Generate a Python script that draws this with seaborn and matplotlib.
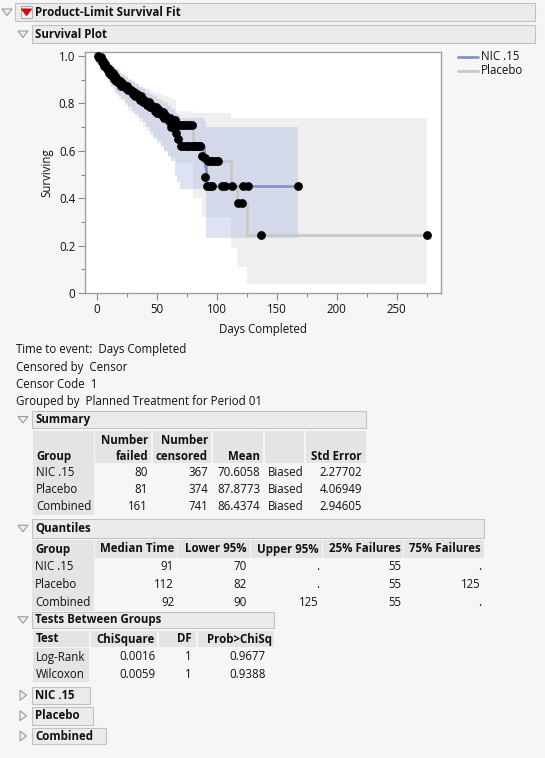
import numpy as np
import pandas as pd
import seaborn as sns
import matplotlib
matplotlib.use('Agg')
from matplotlib import pyplot as plt
from matplotlib.patches import Rectangle, Polygon

sns.set_style('white')
plt.rcParams['font.family'] = ['Open Sans', 'DejaVu Sans']

W, H = 545, 758
FS = 8.3
BG = '#f6f6f6'
INK = '#111111'

# ---- Kaplan-Meier curves ----
nic_t = [0, 2, 4, 6, 8, 10, 12, 14, 16, 18, 20, 23, 26, 29, 32, 35, 38, 41, 44, 47, 50, 53, 56, 59, 62, 65, 67, 69, 89, 90, 91, 168]
nic_s = [1.0, .99, .975, .96, .945, .93, .92, .905, .895, .885, .875, .865, .855, .84, .83, .815, .805, .795, .785, .77, .76, .75, .74, .725, .70, .675, .65, .62, .58, .53, .45, .45]
nic_lo = [1.0, .975, .96, .94, .91, .89, .875, .86, .845, .83, .82, .80, .785, .77, .755, .74, .72, .70, .68, .66, .64, .62, .60, .58, .555, .50, .47, .44, .44, .44, .23, .23]
nic_hi = [1.0, 1.0, .99, .98, .97, .96, .955, .945, .94, .93, .92, .91, .90, .89, .88, .87, .86, .85, .84, .83, .82, .81, .80, .79, .775, .76, .75, .74, .73, .72, .70, .70]

pla_t = [0, 2, 4, 6, 8, 10, 12, 14, 16, 18, 20, 23, 26, 29, 32, 35, 38, 41, 44, 47, 50, 53, 56, 59, 62, 66, 80, 88, 112, 117, 125, 275]
pla_s = [1.0, .995, .98, .965, .95, .94, .93, .915, .905, .895, .885, .875, .86, .85, .84, .83, .815, .805, .795, .785, .775, .765, .75, .74, .73, .71, .62, .555, .45, .38, .245, .245]
pla_lo = [1.0, .97, .95, .93, .905, .885, .87, .85, .835, .82, .81, .79, .77, .755, .74, .72, .70, .685, .665, .65, .63, .61, .595, .58, .57, .55, .40, .32, .19, .11, .04, .04]
pla_hi = [1.0, 1.0, .995, .99, .98, .975, .965, .955, .95, .94, .93, .92, .905, .895, .88, .87, .865, .86, .855, .85, .845, .835, .83, .825, .82, .77, .76, .76, .74, .74, .74, .74]

# censored observations (time, surviving)
nic_ct = [2, 4, 6, 8, 10, 12, 14, 16, 18, 20, 22, 24, 26, 28, 30, 32, 34, 36, 38, 40, 42, 44, 46, 48, 50, 52, 54, 56, 58, 60,
          62, 63, 64, 66, 68, 70, 72, 74, 76, 78, 80, 82, 84, 86, 88, 90, 90, 92, 94, 96, 104, 107, 122, 126, 168]
nic_cs = [.99, .975, .96, .945, .93, .92, .905, .895, .885, .875, .875, .865, .855, .855, .84, .83, .83, .815, .805, .805, .795, .785, .785, .77, .76, .76, .75, .74, .74, .725,
          .70, .70, .70, .675, .65, .62, .62, .62, .62, .62, .62, .62, .62, .62, .58, .57, .49, .45, .45, .45, .45, .45, .45, .45, .45]
pla_ct = [1, 3, 5, 7, 9, 11, 13, 15, 17, 19, 21, 23, 25, 27, 29, 31, 33, 35, 37, 39, 41, 43, 45, 47, 49, 51, 53, 55, 57, 59,
          61, 63, 65, 67, 69, 71, 73, 75, 77, 79, 82, 86, 93, 95, 97, 99, 101, 113, 118, 121, 137, 275]
pla_cs = [1.0, .995, .98, .965, .95, .94, .93, .915, .905, .895, .885, .875, .875, .86, .85, .85, .84, .83, .83, .815, .805, .805, .795, .785, .785, .775, .765, .765, .75, .74,
          .74, .73, .73, .71, .71, .71, .71, .71, .71, .71, .62, .62, .555, .555, .555, .555, .555, .45, .38, .38, .245, .245]

groups = ['NIC .15', 'Placebo']
line_colors = ['#7f96c8', '#c8c8c8']

# ---- tables ----
summary_cols = ['Group', 'Number\nfailed', 'Number\ncensored', 'Mean', '', 'Std Error']
summary_rows = [['NIC .15', '80', '367', '70.6058', 'Biased', '2.27702'],
                ['Placebo', '81', '374', '87.8773', 'Biased', '4.06949'],
                ['Combined', '161', '741', '86.4374', 'Biased', '2.94605']]
quant_cols = ['Group', 'Median Time', 'Lower 95%', 'Upper 95%', '25% Failures', '75% Failures']
quant_rows = [['NIC .15', '91', '70', '.', '55', '.'],
              ['Placebo', '112', '82', '.', '55', '125'],
              ['Combined', '92', '90', '125', '55', '.']]
test_cols = ['Test', 'ChiSquare', 'DF', 'Prob>ChiSq']
test_rows = [['Log-Rank', '0.0016', '1', '0.9677'],
             ['Wilcoxon', '0.0059', '1', '0.9388']]
info_lines = ['Time to event:  Days Completed', 'Censored by  Censor', 'Censor Code  1',
              'Grouped by  Planned Treatment for Period 01']

fig = plt.figure(figsize=(W / 100, H / 100), dpi=100, facecolor=BG)


def fx(x):
    return x / W


def fy(y):
    return 1 - y / H


def box(x0, y0, x1, y1, fc, ec='none', lw=0.8):
    fig.patches.append(Rectangle((fx(x0), fy(y1)), fx(x1 - x0), (y1 - y0) / H,
                                 transform=fig.transFigure, fc=fc, ec=ec, lw=lw))


def txt(x, y, s, ha='left', bold=False, color=INK, size=FS):
    fig.text(fx(x), fy(y), s, ha=ha, va='center', fontsize=size,
             fontweight='bold' if bold else 'normal', color=color)


def tri(x, y, down=True, fc='#f0f0f0', ec='#9a9a9a'):
    if down:
        pts = [(x - 5, y - 3), (x + 5, y - 3), (x, y + 3.5)]
    else:
        pts = [(x - 3, y - 5), (x - 3, y + 5), (x + 3.5, y)]
    fig.patches.append(Polygon([(fx(a), fy(b)) for a, b in pts], closed=True,
                               transform=fig.transFigure, fc=fc, ec=ec, lw=0.8))


def header(x0, y0, x1, y1, label, down=True):
    box(x0, y0, x1, y1, '#ebebeb', '#c2c2c2')
    tri(x0 - 9, (y0 + y1) / 2, down)
    txt(x0 + 3, (y0 + y1) / 2, label, bold=True)


def table(cols, rows, edges, aligns, right_pos, y_head, head_lines, y_rows, y_bottom, head_right=None):
    head_right = head_right or right_pos
    for (a, b) in edges:
        box(a, y_head[0], b, y_head[1], '#e4e4e4')
    box(edges[0][0], y_head[1] + 0.8, edges[0][1], y_bottom, '#e4e4e4')
    for j, c in enumerate(cols):
        parts = c.split('\n')
        ys = head_lines[-len(parts):]
        for p, yy in zip(parts, ys):
            if aligns[j] == 'left':
                txt(edges[j][0] + 3, yy, p, bold=True)
            else:
                txt(head_right[j], yy, p, ha='right', bold=True)
    for r, yy in zip(rows, y_rows):
        for j, v in enumerate(r):
            if aligns[j] == 'left':
                txt(edges[j][0] + 3, yy, v)
            else:
                txt(right_pos[j], yy, v, ha='right')


# ---- top headers ----
box(15, 3, 535, 21, '#ebebeb', '#c2c2c2')
tri(7, 12)
box(21, 6, 32, 18, '#f4f4f4', '#b0b0b0')
tri(26.5, 12, fc='#d01010', ec='#d01010')
txt(35, 12.5, 'Product-Limit Survival Fit', bold=True)
header(32, 25, 535, 43, 'Survival Plot')

# ---- survival plot ----
ax = fig.add_axes([fx(85), fy(293), fx(441 - 85), (293 - 52) / H])
ax.set_facecolor('white')
curves = [(nic_t, nic_s, nic_lo, nic_hi, nic_ct, nic_cs),
          (pla_t, pla_s, pla_lo, pla_hi, pla_ct, pla_cs)]
fills = ['#aab9e1', '#d9d9d9']
for k in [1, 0]:
    t, s, lo, hi, ct, cs = curves[k]
    ax.fill_between(t, lo, hi, step='post', color=fills[k], alpha=0.4, lw=0)
for k in [1, 0]:
    t, s, lo, hi, ct, cs = curves[k]
    df = pd.DataFrame({'t': t, 's': s})
    sns.lineplot(data=df, x='t', y='s', drawstyle='steps-post', estimator=None,
                 color=line_colors[k], lw=2, ax=ax, zorder=3)
for k in [1, 0]:
    t, s, lo, hi, ct, cs = curves[k]
    sns.scatterplot(x=ct, y=cs, color='black', s=40, linewidth=0, ax=ax, zorder=5)

ax.set_xlim(-10, 287)
ax.set_ylim(0, 1.017)
ax.set_xticks([0, 50, 100, 150, 200, 250])
ax.set_xticks(np.arange(25, 287, 50), minor=True)
ax.set_yticks([0, 0.2, 0.4, 0.6, 0.8, 1.0])
ax.set_yticklabels(['0', '0.2', '0.4', '0.6', '0.8', '1.0'])
ax.set_yticks([0.1, 0.3, 0.5, 0.7, 0.9], minor=True)
ax.tick_params(which='major', direction='out', length=5, width=0.8, color='#8a8a8a',
               labelsize=FS, labelcolor=INK, pad=2, bottom=True, left=True)
ax.tick_params(which='minor', direction='out', length=3, width=0.8, color='#8a8a8a',
               bottom=True, left=True)
for sp in ax.spines.values():
    sp.set_color('#a0a0a0')
    sp.set_linewidth(1.0)
ax.set_xlabel('Days Completed', fontsize=FS, color=INK, labelpad=5)
ax.set_ylabel('Surviving', fontsize=FS, color=INK, labelpad=4)

# legend
for k, yy in enumerate([57, 71]):
    fig.lines.append(plt.Line2D([fx(458), fx(478)], [fy(yy), fy(yy)], transform=fig.transFigure,
                                color=line_colors[k], lw=2))
    txt(481, yy, groups[k])

# ---- report text ----
for line, yy in zip(info_lines, [350, 367, 384, 401]):
    txt(16, yy, line)

header(32, 411, 366, 428, 'Summary')
table(summary_cols, summary_rows,
      [(33, 94), (95, 151), (153, 211), (213, 263), (265, 304), (306, 366)],
      ['left', 'right', 'right', 'right', 'left', 'right'],
      [None, 148, 208, 260, None, 362],
      (431, 462.5), [440, 456], [472, 489, 506], 515)

header(32, 519, 484, 537.5, 'Quantiles')
table(quant_cols, quant_rows,
      [(32, 94), (95, 177), (178, 250), (251, 322), (323, 403), (404, 484)],
      ['left', 'right', 'right', 'right', 'right', 'right'],
      [None, 174, 247, 319, 401, 481],
      (540, 557.5), [549], [567, 584.5, 602], 611)

header(32, 611.5, 274, 628, 'Tests Between Groups')
table(test_cols, test_rows,
      [(33, 89), (91, 157), (159, 196), (198, 274)],
      ['left', 'right', 'right', 'right'],
      [None, 155, 192, 266],
      (631, 647), [639], [657, 674], 682,
      head_right=[None, 155, 192, 272])

for lab, (y0, y1, x1) in zip(['NIC .15', 'Placebo', 'Combined'],
                              [(687, 703.5, 90), (707, 724.5, 93), (728, 744, 106)]):
    header(32, y0, x1, y1, lab, down=False)

fig.savefig('out.png', dpi=100, facecolor=BG)
